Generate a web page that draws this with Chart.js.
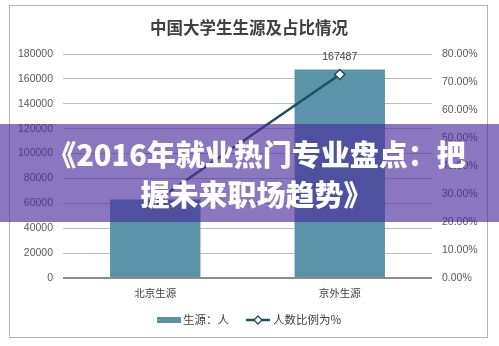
<!DOCTYPE html>
<html>
<head>
<meta charset="utf-8">
<script src="https://cdn.jsdelivr.net/npm/chart.js@4/dist/chart.umd.min.js"></script>
<style>
  html, body { margin: 0; padding: 0; background: #ffffff; }
  #wrap { position: relative; width: 499px; height: 346px; overflow: hidden; }
  #c { position: absolute; left: 0; top: 0; }
  #banner {
    position: absolute; left: 0; top: 124px; width: 499px; height: 98px;
    background: rgba(74, 42, 156, 0.64);
    display: flex; align-items: center; justify-content: center;
    color: #ffffff; text-align: center;
    font-family: "Noto Sans CJK SC", "Noto Sans", sans-serif; font-weight: 900;
    font-size: 29px; line-height: 40px; padding-left: 14px; box-sizing: border-box;
    white-space: nowrap;
  }
</style>
</head>
<body>
<div id="wrap">
  <canvas id="c" width="499" height="346"></canvas>
  <div id="banner"><div>《2016年就业热门专业盘点：把<br>握未来职场趋势》</div></div>
</div>
<script>
// 生源分布：人数与占比
const chartTitle = '中国大学生生源及占比情况';
const categories = ['北京生源', '京外生源'];
const studentCounts = [63000, 167487];
const sharePercent = [27.3, 72.7];
const countLabel = '生源：人';
const shareLabel = '人数比例为%';
const countTicks = { min: 0, max: 180000, step: 20000 };
const shareTicks = { min: 0, max: 80, step: 10 };

const BAR_COLOR = '#5b93a9';
const LINE_COLOR = '#1f4e61';
const TICK_COLOR = '#595959';
const TEXT_COLOR = '#404040';
const LATIN = '"Liberation Sans", Arial, sans-serif';
const CJK = '"Noto Sans CJK SC", "Noto Sans", sans-serif';

// frame, title, value label on the second bar and the legend row
const decorations = {
  id: 'decorations',
  beforeDraw(chart) {
    const ctx = chart.ctx;
    ctx.save();
    ctx.fillStyle = '#ffffff';
    ctx.fillRect(0, 0, chart.width, chart.height);
    ctx.strokeStyle = '#b4b4b4';
    ctx.lineWidth = 1;
    ctx.strokeRect(9.5, 5.5, 478, 332);
    ctx.restore();
  },
  afterDraw(chart) {
    const ctx = chart.ctx;
    ctx.save();
    // title
    ctx.fillStyle = TEXT_COLOR;
    ctx.font = 'bold 16.5px ' + CJK;
    ctx.textAlign = 'center';
    ctx.textBaseline = 'middle';
    ctx.fillText(chartTitle, 249, 28);

    // value label above the 京外 bar
    const barMeta = chart.getDatasetMeta(1);
    const bar = barMeta.data[1];
    ctx.font = '10.5px ' + LATIN;
    ctx.fillStyle = TEXT_COLOR;
    ctx.fillText(String(studentCounts[1]), bar.x, bar.y - 12);

    // legend
    const ly = 320;
    ctx.fillStyle = BAR_COLOR;
    ctx.fillRect(157, ly - 3, 24, 6);
    ctx.fillStyle = TEXT_COLOR;
    ctx.font = '11.5px ' + CJK;
    ctx.textAlign = 'left';
    ctx.fillText(countLabel, 183, ly);

    ctx.strokeStyle = LINE_COLOR;
    ctx.lineWidth = 2.5;
    ctx.beginPath();
    ctx.moveTo(246, ly);
    ctx.lineTo(270, ly);
    ctx.stroke();
    ctx.fillStyle = '#ffffff';
    ctx.lineWidth = 1.3;
    ctx.beginPath();
    ctx.moveTo(258, ly - 4);
    ctx.lineTo(262, ly);
    ctx.lineTo(258, ly + 4);
    ctx.lineTo(254, ly);
    ctx.closePath();
    ctx.fill();
    ctx.stroke();
    ctx.fillStyle = TEXT_COLOR;
    ctx.fillText(shareLabel, 273, ly);
    ctx.restore();
  }
};

new Chart(document.getElementById('c'), {
  type: 'bar',
  data: {
    labels: categories,
    datasets: [
      {
        type: 'line',
        label: shareLabel,
        data: sharePercent,
        yAxisID: 'y1',
        order: 0,
        borderColor: LINE_COLOR,
        borderWidth: 2.5,
        pointStyle: 'rectRot',
        pointRadius: 5,
        pointBackgroundColor: '#ffffff',
        pointBorderColor: LINE_COLOR,
        pointBorderWidth: 1.5,
        tension: 0
      },
      {
        type: 'bar',
        label: countLabel,
        data: studentCounts,
        yAxisID: 'y',
        order: 1,
        backgroundColor: BAR_COLOR,
        barPercentage: 0.49,
        categoryPercentage: 1
      }
    ]
  },
  options: {
    responsive: false,
    animation: false,
    devicePixelRatio: 1,
    layout: { padding: { top: 54, bottom: 28, left: 0, right: 0 } },
    plugins: {
      legend: { display: false },
      title: { display: false },
      tooltip: { enabled: false }
    },
    scales: {
      x: {
        grid: { display: false, drawTicks: false },
        border: { display: false },
        ticks: { color: TEXT_COLOR, font: { family: CJK, size: 10.5 }, padding: 9 },
        afterFit(s) { s.height = 40; }
      },
      y: {
        position: 'left',
        min: countTicks.min,
        max: countTicks.max,
        ticks: {
          stepSize: countTicks.step,
          color: TICK_COLOR,
          font: { family: LATIN, size: 10.5 },
          padding: 10,
          callback: v => String(v)
        },
        grid: {
          drawTicks: false,
          color: c => c.tick && c.tick.value === 0 ? '#8c8c8c' : '#bdbdbd',
          lineWidth: c => c.tick && c.tick.value === 0 ? 2 : 1
        },
        border: { display: false },
        afterFit(s) { s.width = 63; }
      },
      y1: {
        position: 'right',
        min: shareTicks.min,
        max: shareTicks.max,
        ticks: {
          stepSize: shareTicks.step,
          color: TICK_COLOR,
          font: { family: LATIN, size: 10.5 },
          padding: 10,
          callback: v => Number(v).toFixed(2) + '%'
        },
        grid: { display: false, drawTicks: false },
        border: { display: false },
        afterFit(s) { s.width = 67; }
      }
    }
  },
  plugins: [decorations]
});
</script>
</body>
</html>
